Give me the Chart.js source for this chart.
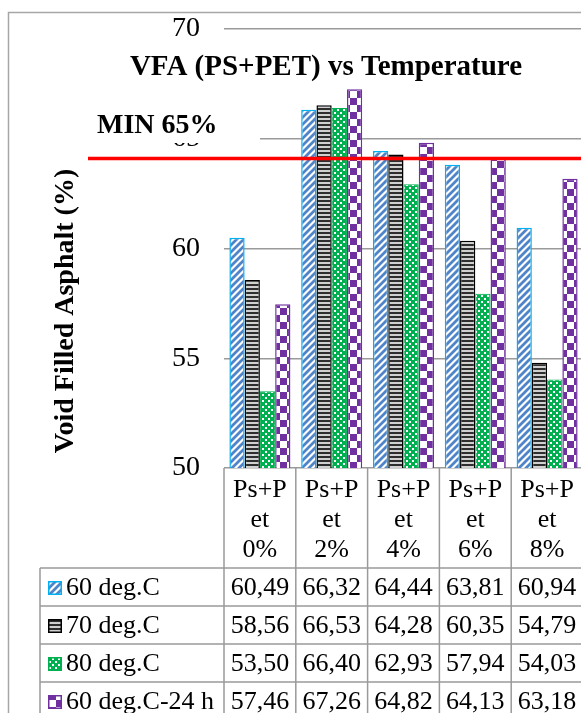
<!DOCTYPE html>
<html>
<head>
<meta charset="utf-8">
<script src="https://cdn.jsdelivr.net/npm/chart.js@4.4.0/dist/chart.umd.min.js"></script>
<style>
  html, body { margin: 0; padding: 0; background: #fff; overflow: hidden; }
  canvas { display: block; }
</style>
</head>
<body>
<canvas id="vfa-chart" width="600" height="713"></canvas>
<script>
// data
const categories = [
  ["Ps+P", "et", "0%"],
  ["Ps+P", "et", "2%"],
  ["Ps+P", "et", "4%"],
  ["Ps+P", "et", "6%"],
  ["Ps+P", "et", "8%"],
];
const seriesNames = ["60 deg.C", "70 deg.C", "80 deg.C", "60 deg.C-24 h"];
const vfa60 = [60.49, 66.32, 64.44, 63.81, 60.94];
const vfa70 = [58.56, 66.53, 64.28, 60.35, 54.79];
const vfa80 = [53.5, 66.4, 62.93, 57.94, 54.03];
const vfa60h24 = [57.46, 67.26, 64.82, 64.13, 63.18];
const yMin = 50;
const yMax = 70;
const yStep = 5;
const minLine = 64.1;
const minLabel = "MIN 65%";
const titleText = "VFA (PS+PET) vs Temperature";
const yTitleText = "Void Filled Asphalt (%)";

const SERIF = '"Liberation Serif", "Times New Roman", serif';
const canvas = document.getElementById("vfa-chart");
const ctx = canvas.getContext("2d");

function makePattern(w, h, draw) {
  const tile = document.createElement("canvas");
  tile.width = w;
  tile.height = h;
  draw(tile.getContext("2d"), w, h);
  return ctx.createPattern(tile, "repeat");
}

// blue diagonal hatch
const bluePattern = makePattern(7, 7, (g, w, h) => {
  g.fillStyle = "#ffffff";
  g.fillRect(0, 0, w, h);
  g.strokeStyle = "#4f84c9";
  g.lineWidth = 2.8;
  g.beginPath();
  g.moveTo(-1, h + 1); g.lineTo(w + 1, -1);
  g.moveTo(-1, 1); g.lineTo(1, -1);
  g.moveTo(w - 1, h + 1); g.lineTo(w + 1, h - 1);
  g.stroke();
});
// black horizontal stripes
const blackPattern = makePattern(4, 4, (g, w, h) => {
  g.fillStyle = "#d0d0d0";
  g.fillRect(0, 0, w, h);
  g.fillStyle = "#2e2e2e";
  g.fillRect(0, 0, w, 2);
});
// green small checker
const greenPattern = makePattern(6, 6, (g, w, h) => {
  g.fillStyle = "#00b050";
  g.fillRect(0, 0, w, h);
  g.fillStyle = "#ffffff";
  g.fillRect(1, 1, 2, 2);
  g.fillRect(4, 4, 2, 2);
});
// purple large checker
const purplePattern = makePattern(14, 14, (g, w, h) => {
  g.fillStyle = "#ffffff";
  g.fillRect(0, 0, w, h);
  g.fillStyle = "#7030a0";
  g.fillRect(0, 0, 7, 7);
  g.fillRect(7, 7, 7, 7);
});

const fills = [bluePattern, blackPattern, greenPattern, purplePattern];
const borders = ["#00b0f0", "#000000", "#00b050", "#7030a0"];
const seriesData = [vfa60, vfa70, vfa80, vfa60h24];

const fmt = (v) => v.toFixed(2).replace(".", ",");

const decor = {
  id: "decor",
  afterDatasetsDraw(chart) {
    const { ctx, scales } = chart;
    const yLine = scales.y.getPixelForValue(minLine);
    ctx.save();
    ctx.strokeStyle = "#ff0000";
    ctx.lineWidth = 3.5;
    ctx.beginPath();
    ctx.moveTo(88, yLine);
    ctx.lineTo(chart.width, yLine);
    ctx.stroke();
    ctx.restore();
  },
  afterDraw(chart) {
    const { ctx, chartArea, scales } = chart;
    const x = scales.x;
    const H = chart.height;
    ctx.save();

    // outer frame
    ctx.strokeStyle = "#a6a6a6";
    ctx.lineWidth = 1.5;
    ctx.strokeRect(8.5, 12.5, 900, 900);

    // title
    ctx.fillStyle = "#000";
    ctx.font = "bold 29px " + SERIF;
    ctx.textAlign = "center";
    ctx.textBaseline = "middle";
    ctx.fillText(titleText, 326, 68);

    // y axis title
    ctx.font = "bold 28px " + SERIF;
    ctx.save();
    ctx.translate(66, 311);
    ctx.rotate(-Math.PI / 2);
    ctx.fillText(yTitleText, 0, 0);
    ctx.restore();

    // MIN label with white box over the 65 tick
    ctx.fillStyle = "#ffffff";
    ctx.fillRect(88, 104, 172, 39);
    ctx.fillStyle = "#000";
    ctx.textAlign = "left";
    ctx.fillText(minLabel, 97, 126);

    // data table
    const n = categories.length;
    const colW = x.width / n;
    const rowTop = 568;
    const rowH = 38;
    const tableLeft = 40;
    ctx.strokeStyle = "#9a9a9a";
    ctx.lineWidth = 1.5;
    ctx.beginPath();
    for (let i = 0; i <= n; i++) {
      const ex = x.left + i * colW;
      ctx.moveTo(ex, chartArea.bottom);
      ctx.lineTo(ex, H);
    }
    ctx.moveTo(tableLeft, rowTop);
    ctx.lineTo(tableLeft, H);
    for (let r = 0; r <= seriesNames.length; r++) {
      const ry = rowTop + r * rowH;
      ctx.moveTo(tableLeft, ry);
      ctx.lineTo(x.right, ry);
    }
    ctx.stroke();

    ctx.font = "26px " + SERIF;
    ctx.textBaseline = "middle";
    seriesNames.forEach((name, r) => {
      const cy = rowTop + r * rowH + rowH / 2 + 1;
      // legend key
      ctx.fillStyle = fills[r];
      ctx.fillRect(48, cy - 7, 14, 14);
      ctx.strokeStyle = borders[r];
      ctx.lineWidth = 1.5;
      ctx.strokeRect(48.75, cy - 6.25, 12.5, 12.5);
      ctx.fillStyle = "#000";
      ctx.textAlign = "left";
      ctx.fillText(name, 66, cy);
      ctx.textAlign = "center";
      seriesData[r].forEach((v, i) => {
        ctx.fillText(fmt(v), x.getPixelForTick(i), cy);
      });
    });
    ctx.restore();
  },
};

new Chart(canvas, {
  type: "bar",
  data: {
    labels: categories,
    datasets: seriesNames.map((name, i) => ({
      label: name,
      data: seriesData[i],
      backgroundColor: fills[i],
      borderColor: borders[i],
      borderWidth: i === 2 ? 1 : 1.5,
      barPercentage: 1,
      categoryPercentage: 0.85,
    })),
  },
  options: {
    responsive: false,
    maintainAspectRatio: false,
    devicePixelRatio: 1,
    animation: false,
    layout: { padding: { top: 29, right: 17, left: 0, bottom: 0 } },
    plugins: {
      legend: { display: false },
      title: { display: false },
      tooltip: { enabled: false },
    },
    scales: {
      x: {
        grid: { display: false, drawTicks: false },
        border: { display: false },
        ticks: {
          color: "#000",
          font: { family: SERIF, size: 26, lineHeight: 1.15 },
          padding: 7,
          maxRotation: 0,
          autoSkip: false,
        },
        afterFit: (scale) => {
          scale.height = 245;
        },
      },
      y: {
        min: yMin,
        max: yMax,
        grid: { color: "#9a9a9a", lineWidth: 1.5, drawTicks: false },
        border: { display: false },
        ticks: {
          stepSize: yStep,
          color: "#000",
          font: { family: SERIF, size: 28 },
          padding: 24,
        },
        afterFit: (scale) => {
          scale.width = 224;
          scale.paddingTop = 0;
          scale.paddingBottom = 0;
        },
      },
    },
  },
  plugins: [decor],
});
</script>
</body>
</html>
